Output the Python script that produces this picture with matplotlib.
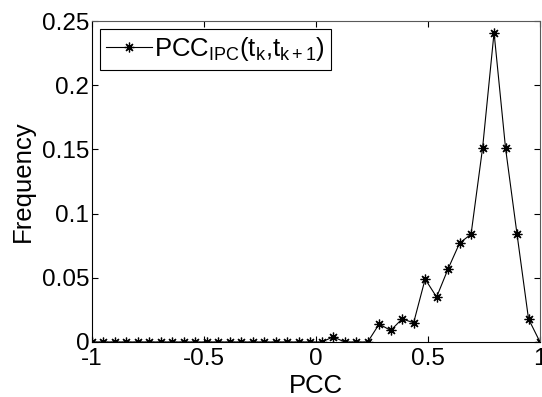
import numpy as np
import matplotlib.pyplot as plt

plt.rcParams['font.family'] = ['Liberation Sans', 'DejaVu Sans']
plt.rcParams['mathtext.fontset'] = 'custom'
plt.rcParams['mathtext.rm'] = 'Liberation Sans'
plt.rcParams['mathtext.it'] = 'Liberation Sans'

# 40 bins between -1 and 1
n_bins = 40
pcc = np.linspace(-1, 1, n_bins)
freq = [0]*21 + [0.004, 0, 0, 0, 0.014, 0.009, 0.018, 0.015, 0.049, 0.035,
                 0.057, 0.077, 0.084, 0.151, 0.241, 0.151, 0.084, 0.018, 0]

xticks = [-1, -0.5, 0, 0.5, 1]
xlabels = ['-1', '-0.5', '0', '0.5', '1']
yticks = [0, 0.05, 0.1, 0.15, 0.2, 0.25]
ylabels = ['0', '0.05', '0.1', '0.15', '0.2', '0.25']

fs = 17.5
fig = plt.figure(figsize=(5.42, 3.97), dpi=100)
ax = fig.add_axes([92/542, 1-342/397, 448/542, 321/397])

ax.plot(pcc, freq, color='k', lw=0.8, marker=(8, 2, 0), ms=7, mew=0.9,
        label=r'PCC$_{\mathrm{IPC}}$(t$_{\mathrm{k}}$,t$_{\mathrm{k+1}}$)')

ax.set_xlim(-1, 1)
ax.set_ylim(0, 0.25)
ax.set_xticks(xticks)
ax.set_xticklabels(xlabels)
ax.set_yticks(yticks)
ax.set_yticklabels(ylabels)
ax.tick_params(direction='in', top=True, right=True, labelsize=fs, length=4)
ax.tick_params(axis='x', pad=4)
ax.tick_params(axis='y', pad=2)
for s in ax.spines.values():
    s.set_color('0.35')
ax.spines['left'].set_color('k')
ax.spines['bottom'].set_color('k')
ax.set_xlabel('PCC', fontsize=18.5, labelpad=3)
ax.set_ylabel('Frequency', fontsize=18.5, labelpad=5)

leg = ax.legend(loc='upper left', fontsize=18.5, fancybox=False, framealpha=1,
                edgecolor='k', borderaxespad=0.3, handlelength=1.8,
                handletextpad=0.05, borderpad=0.25)
leg.get_frame().set_linewidth(0.8)

fig.savefig('out.png', dpi=100)
